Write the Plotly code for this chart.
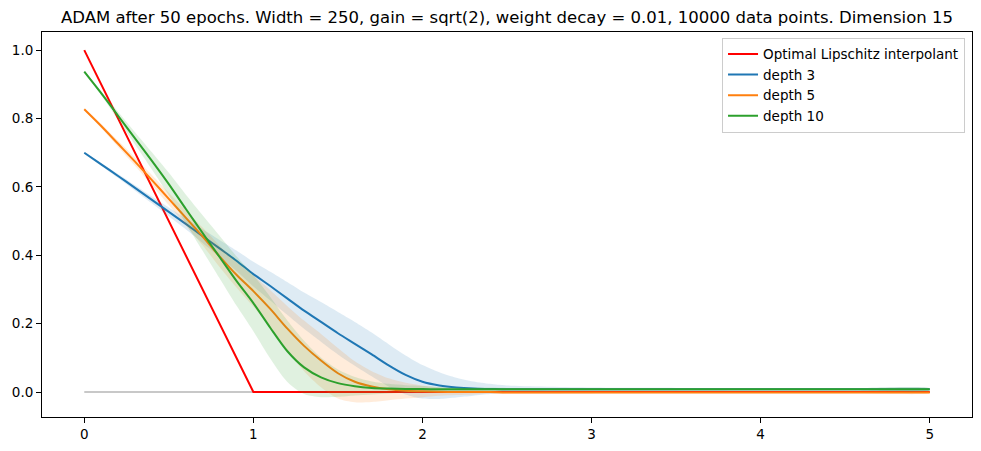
import plotly.graph_objects as go

# sample positions along the input axis
x_vals = [0.0, 0.1, 0.2, 0.3, 0.4, 0.5, 0.6, 0.7, 0.8, 0.9,
          1.0, 1.1, 1.2, 1.3, 1.4, 1.5, 1.6, 1.7, 1.8, 1.9,
          2.0, 2.1, 2.2, 2.3, 2.4, 2.5, 3.0, 3.5, 4.0, 4.5, 5.0]

# optimal Lipschitz interpolant (corner points)
opt_x = [0.0, 1.0, 5.0]
opt_y = [1.0, 0.0, 0.0]

# reference zero line
zero_x = [0.0, 5.0]
zero_y = [0.0, 0.0]

# depth 3
blue_mean = [0.700, 0.666, 0.632, 0.597, 0.562, 0.527, 0.492, 0.456, 0.420, 0.384,
             0.345, 0.310, 0.274, 0.238, 0.205, 0.172, 0.141, 0.110, 0.078, 0.050,
             0.030, 0.019, 0.013, 0.010, 0.009, 0.008, 0.008, 0.008, 0.008, 0.008, 0.008]
blue_std = [0.003, 0.004, 0.006, 0.008, 0.010, 0.013, 0.016, 0.020, 0.025, 0.030,
            0.036, 0.042, 0.048, 0.053, 0.058, 0.062, 0.064, 0.064, 0.062, 0.057,
            0.049, 0.039, 0.029, 0.021, 0.015, 0.011, 0.005, 0.004, 0.003, 0.003, 0.003]

# depth 5
orange_mean = [0.827, 0.778, 0.726, 0.674, 0.620, 0.565, 0.510, 0.455, 0.397, 0.343,
               0.295, 0.243, 0.186, 0.135, 0.092, 0.055, 0.030, 0.016, 0.008, 0.004,
               0.002, 0.001, 0.000, 0.000, 0.000, -0.001, -0.001, -0.001, -0.001, -0.001, -0.001]
orange_std = [0.003, 0.006, 0.009, 0.012, 0.015, 0.018, 0.022, 0.026, 0.031, 0.037,
              0.045, 0.055, 0.066, 0.074, 0.078, 0.074, 0.060, 0.045, 0.032, 0.023,
              0.017, 0.012, 0.009, 0.007, 0.005, 0.004, 0.003, 0.002, 0.002, 0.002, 0.002]

# depth 10
green_mean = [0.937, 0.874, 0.808, 0.742, 0.676, 0.608, 0.536, 0.465, 0.395, 0.325,
              0.260, 0.188, 0.120, 0.072, 0.043, 0.026, 0.017, 0.012, 0.010, 0.009,
              0.009, 0.008, 0.008, 0.008, 0.008, 0.008, 0.008, 0.008, 0.008, 0.008, 0.008]
green_std = [0.003, 0.006, 0.012, 0.018, 0.025, 0.033, 0.042, 0.052, 0.062, 0.072,
             0.082, 0.090, 0.090, 0.078, 0.058, 0.040, 0.027, 0.019, 0.014, 0.011,
             0.009, 0.007, 0.006, 0.005, 0.005, 0.004, 0.003, 0.003, 0.003, 0.003, 0.003]

series = [
    ("depth 3", blue_mean, blue_std, "#1f77b4", "rgba(31,119,180,0.15)"),
    ("depth 5", orange_mean, orange_std, "#ff7f0e", "rgba(255,127,14,0.15)"),
    ("depth 10", green_mean, green_std, "#2ca02c", "rgba(44,160,44,0.15)"),
]

fig = go.Figure()

fig.add_trace(go.Scatter(x=zero_x, y=zero_y, mode="lines",
                         line=dict(color="#c8c8c8", width=2),
                         showlegend=False, hoverinfo="skip"))

fig.add_trace(go.Scatter(x=opt_x, y=opt_y, mode="lines",
                         name="Optimal Lipschitz interpolant",
                         line=dict(color="red", width=2)))

for name, mean, std, color, fill in series:
    upper = [m + s for m, s in zip(mean, std)]
    lower = [m - s for m, s in zip(mean, std)]
    # std band
    fig.add_trace(go.Scatter(
        x=x_vals + x_vals[::-1],
        y=upper + lower[::-1],
        fill="toself", fillcolor=fill,
        line=dict(width=0, color="rgba(0,0,0,0)", shape="spline", smoothing=0.8),
        showlegend=False, hoverinfo="skip"))
    fig.add_trace(go.Scatter(x=x_vals, y=mean, mode="lines", name=name,
                             line=dict(color=color, width=2,
                                       shape="spline", smoothing=0.8)))

axis_style = dict(showgrid=False, zeroline=False, showline=True, mirror=True,
                  linecolor="black", linewidth=1, ticks="outside", ticklen=5,
                  tickcolor="black", tickfont=dict(size=13.5, color="black"))

fig.update_layout(
    width=981, height=451,
    margin=dict(l=42, r=9, t=32, b=34),
    paper_bgcolor="white", plot_bgcolor="white",
    font=dict(family="DejaVu Sans", color="black"),
    title=dict(text="ADAM after 50 epochs. Width = 250, gain = sqrt(2), weight decay = 0.01, "
                    "10000 data points. Dimension 15",
               x=0.5, xref="paper", xanchor="center",
               y=0.962, yref="container", yanchor="middle",
               font=dict(size=16.5, color="black")),
    legend=dict(x=0.9925, y=0.985, xanchor="right", yanchor="top",
                bgcolor="rgba(255,255,255,0.8)", bordercolor="#cccccc",
                borderwidth=1, font=dict(size=13.5)),
    xaxis=dict(range=[-0.25, 5.25], tickvals=[0, 1, 2, 3, 4, 5], **axis_style),
    yaxis=dict(range=[-0.073, 1.053], tickvals=[0.0, 0.2, 0.4, 0.6, 0.8, 1.0],
               tickformat=".1f", **axis_style),
)

# drop the default page margin so the figure sits at the window's corner
fig.write_html("out.html", config={"displayModeBar": False},
               post_script="document.body.style.margin='0';")
